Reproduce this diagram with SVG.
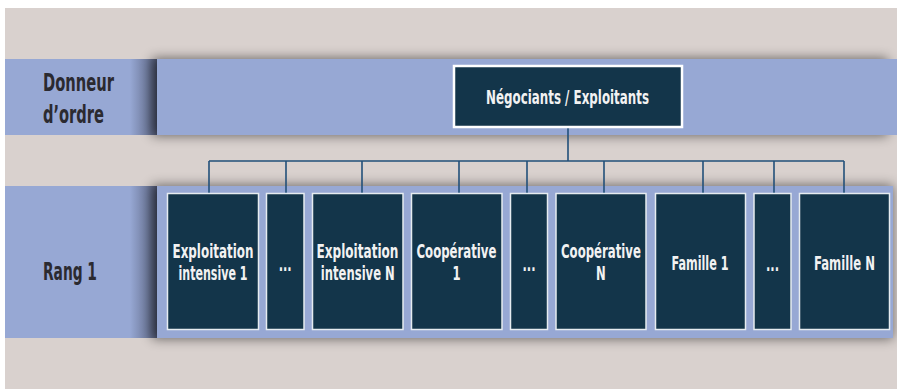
<svg xmlns="http://www.w3.org/2000/svg" width="897" height="389" viewBox="0 0 897 389">
  <style>
    .band { fill: #97a8d4; }
    .label { font-family: "DejaVu Sans Condensed", "DejaVu Sans", sans-serif; font-stretch: condensed; font-weight: bold; font-size: 24px; fill: #2b2a30; }
    .node rect { fill: #13354a; stroke: #e6ecf0; stroke-width: 1.5; }
    .node text { font-family: "DejaVu Sans Condensed", "DejaVu Sans", sans-serif; font-stretch: condensed; font-weight: bold; font-size: 19px; fill: #f2f2f2; text-anchor: middle; }
    .top rect { stroke-width: 2.5; stroke: #ffffff; }
    .links path { fill: none; stroke: #22507a; stroke-width: 1.6; }
    .edge { fill: url(#edgeShade); }
  </style>
  <defs>
    <filter id="soft" x="-10%" y="-50%" width="120%" height="200%">
      <feGaussianBlur stdDeviation="6"/>
    </filter>
    <linearGradient id="edgeShade" x1="0" y1="0" x2="1" y2="0">
      <stop offset="0" stop-color="#1c1c2a" stop-opacity="0"/>
      <stop offset="0.6" stop-color="#1c1c2a" stop-opacity="0.3"/>
      <stop offset="1" stop-color="#1c1c2a" stop-opacity="0.55"/>
    </linearGradient>
  </defs>

  <!-- page -->
  <rect x="0" y="0" width="897" height="389" fill="#ffffff"/>
  <rect x="5" y="8" width="892" height="381" fill="#d9d1ce"/>

  <!-- band: donneur d'ordre (text is drawn condensed with scale 0.68) -->
  <g id="band-donneur">
    <rect class="band" x="5" y="59" width="152" height="76"/>
    <rect class="edge" x="130" y="59" width="27" height="76"/>
    <rect x="152" y="58" width="736" height="78" fill="#000" opacity="0.5" filter="url(#soft)"/>
    <rect class="band" x="157" y="59" width="740" height="76"/>
    <text class="label" transform="scale(0.68 1)" x="63.2" y="91" textLength="104.4" lengthAdjust="spacingAndGlyphs">Donneur</text>
    <text class="label" transform="scale(0.68 1)" x="63.2" y="123" textLength="89.7" lengthAdjust="spacingAndGlyphs">d’ordre</text>
  </g>

  <!-- band: rang 1 -->
  <g id="band-rang1">
    <rect class="band" x="5" y="186" width="152" height="152"/>
    <rect class="edge" x="130" y="186" width="27" height="152"/>
    <rect x="152" y="185" width="741" height="154" fill="#000" opacity="0.5" filter="url(#soft)"/>
    <rect class="band" x="157" y="186" width="736" height="152"/>
    <text class="label" transform="scale(0.68 1)" x="63.2" y="280" textLength="79.4" lengthAdjust="spacingAndGlyphs">Rang 1</text>
  </g>

  <!-- connectors -->
  <g class="links" id="connectors">
    <path d="M568 128 V161 M209 161 H844"/>
    <path d="M209 161 V193 M286 161 V193 M362 161 V193 M459 161 V193 M527 161 V193 M604 161 V193 M703 161 V193 M774 161 V193 M844 161 V193"/>
  </g>

  <!-- donneur d'ordre node -->
  <g class="node top" id="negociants">
    <rect x="454" y="66" width="228" height="61"/>
    <text transform="scale(0.68 1)" x="834.6" y="104.5" textLength="239.7" lengthAdjust="spacingAndGlyphs">Négociants / Exploitants</text>
  </g>

  <!-- rang 1 nodes -->
  <g class="node" id="exploitation-1">
    <rect x="167.5" y="193.5" width="91" height="136"/>
    <text transform="scale(0.68 1)" x="313.2" y="258.5" textLength="119.1" lengthAdjust="spacingAndGlyphs">Exploitation</text>
    <text transform="scale(0.68 1)" x="313.2" y="280.5" textLength="101.5" lengthAdjust="spacingAndGlyphs">intensive 1</text>
  </g>
  <g class="node" id="exploitation-etc">
    <rect x="266.5" y="193.5" width="37.5" height="136"/>
    <text transform="scale(0.68 1)" x="419.4" y="271" textLength="19.1" lengthAdjust="spacingAndGlyphs">...</text>
  </g>
  <g class="node" id="exploitation-n">
    <rect x="312.5" y="193.5" width="90.5" height="136"/>
    <text transform="scale(0.68 1)" x="525.7" y="258.5" textLength="120.6" lengthAdjust="spacingAndGlyphs">Exploitation</text>
    <text transform="scale(0.68 1)" x="526.2" y="280.5" textLength="108.8" lengthAdjust="spacingAndGlyphs">intensive N</text>
  </g>
  <g class="node" id="cooperative-1">
    <rect x="411.5" y="193.5" width="90.5" height="136"/>
    <text transform="scale(0.68 1)" x="671.3" y="258.5" textLength="117.6" lengthAdjust="spacingAndGlyphs">Coopérative</text>
    <text transform="scale(0.68 1)" x="671.3" y="280.5">1</text>
  </g>
  <g class="node" id="cooperative-etc">
    <rect x="510.5" y="193.5" width="37" height="136"/>
    <text transform="scale(0.68 1)" x="777.9" y="271" textLength="19.1" lengthAdjust="spacingAndGlyphs">...</text>
  </g>
  <g class="node" id="cooperative-n">
    <rect x="556" y="193.5" width="90" height="136"/>
    <text transform="scale(0.68 1)" x="883.8" y="258.5" textLength="117.6" lengthAdjust="spacingAndGlyphs">Coopérative</text>
    <text transform="scale(0.68 1)" x="883.8" y="280.5">N</text>
  </g>
  <g class="node" id="famille-1">
    <rect x="655.5" y="193.5" width="90" height="136"/>
    <text transform="scale(0.68 1)" x="1029.4" y="270" textLength="83.8" lengthAdjust="spacingAndGlyphs">Famille 1</text>
  </g>
  <g class="node" id="famille-etc">
    <rect x="754" y="193.5" width="37" height="136"/>
    <text transform="scale(0.68 1)" x="1136" y="271" textLength="19.1" lengthAdjust="spacingAndGlyphs">...</text>
  </g>
  <g class="node" id="famille-n">
    <rect x="799.5" y="193.5" width="90" height="136"/>
    <text transform="scale(0.68 1)" x="1241.9" y="270" textLength="89.7" lengthAdjust="spacingAndGlyphs">Famille N</text>
  </g>
</svg>
